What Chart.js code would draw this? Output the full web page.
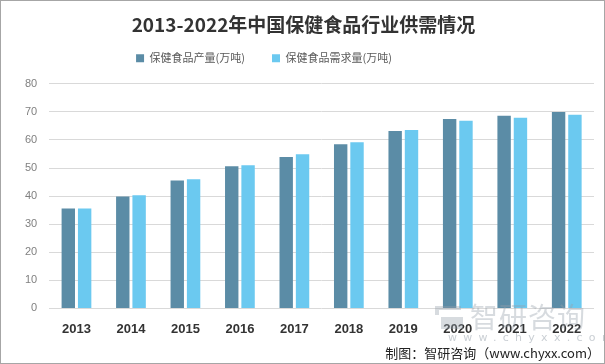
<!DOCTYPE html>
<html><head><meta charset="utf-8">
<script src="https://cdn.jsdelivr.net/npm/chart.js@4/dist/chart.umd.min.js"></script>
<style>
html,body{margin:0;padding:0;background:#fff;}
#wrap{position:relative;width:605px;height:364px;box-sizing:border-box;border:1px solid #a6a6a6;overflow:hidden;}
#c{position:absolute;left:0;top:0;}
#wm{position:absolute;left:469px;top:298px;font-family:"Noto Sans CJK SC";font-size:28px;color:rgba(150,160,170,0.38);letter-spacing:1px;line-height:34px;}
#wm2{position:absolute;left:447px;top:330px;font-family:"DejaVu Sans";font-size:11px;color:rgba(150,160,170,0.5);letter-spacing:6.3px;}
#logo1{position:absolute;left:434px;top:305px;width:26px;height:9px;border-top:4px solid rgba(150,160,170,0.38);border-left:4px solid rgba(150,160,170,0.38);box-sizing:border-box;}
#logo2{position:absolute;left:440px;top:316px;width:22px;height:12px;background:rgba(150,160,170,0.38);}
#foot{position:absolute;right:4px;top:342px;font-family:"Noto Sans CJK SC";font-size:13px;color:#222;}
</style></head>
<body><div id="wrap"><canvas id="c" width="603" height="362"></canvas>
<div id="logo1"></div><div id="logo2"></div>
<div id="wm">智研咨询</div><div id="wm2">www.chyxx.com</div>
<div id="foot">制图：智研咨询（www.chyxx.com）</div></div>
<script>
const categories = ["2013","2014","2015","2016","2017","2018","2019","2020","2021","2022"];
const production = [35.6,39.9,45.6,50.6,53.9,58.5,63.2,67.5,68.6,70.0];
const demand = [35.6,40.3,46.0,51.0,54.9,59.2,63.5,66.8,67.9,69.0];
const yTicks = [0,10,20,30,40,50,60,70,80];
const seriesNames = ["保健食品产量(万吨)","保健食品需求量(万吨)"];
const titleText = "2013-2022年中国保健食品行业供需情况";

const legendShift = {
  id: 'legendShift',
  afterLayout(chart) {
    const lg = chart.legend;
    if (!lg) return;
    const dx = 263 - (lg.left + lg.right) / 2;
    lg.left += dx; lg.right += dx;
    lg.top -= 10; lg.bottom -= 10;
  }
};

new Chart(document.getElementById('c'), {
  type: 'bar',
  data: {
    labels: categories,
    datasets: [
      {label: seriesNames[0], data: production, backgroundColor: '#5b8ca6', categoryPercentage: 0.6, barPercentage: 0.82},
      {label: seriesNames[1], data: demand, backgroundColor: '#6bc9f0', categoryPercentage: 0.6, barPercentage: 0.82}
    ]
  },
  options: {
    responsive: false,
    animation: false,
    layout: {padding: {left: 12, right: 10, top: 8, bottom: 21}},
    plugins: {
      title: {display: true, text: titleText, color: '#333', font: {family: '"Noto Sans CJK SC"', size: 19, weight: 'bold'}, padding: {top: 4, bottom: 0}},
      legend: {display: true, labels: {boxWidth: 8, boxHeight: 8, color: '#595959', font: {family: '"Noto Sans CJK SC"', size: 11}, padding: 27}},
      tooltip: {enabled: false}
    },
    scales: {
      x: {grid: {display: false}, border: {display: false},
          ticks: {color: '#333', font: {family: '"Liberation Sans"', size: 13, weight: 'bold'}, padding: 5}},
      y: {min: 0, max: 80, afterBuildTicks: (s) => { s.ticks = yTicks.map(v => ({value: v})); },
          grid: {color: '#d9d9d9', drawTicks: false}, border: {display: false},
          ticks: {color: '#808080', font: {family: '"Liberation Sans"', size: 11}, padding: 12}}
    }
  },
  plugins: [legendShift]
});
</script></body></html>
